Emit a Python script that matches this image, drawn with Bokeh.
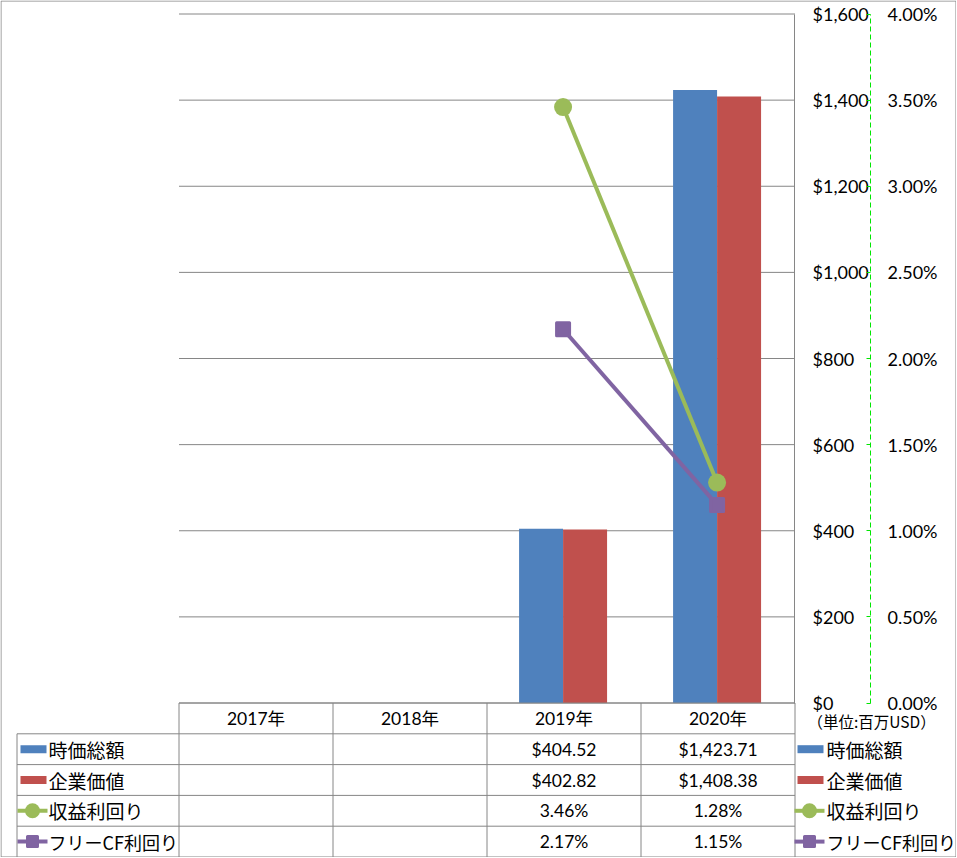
from bokeh.plotting import figure
from bokeh.models import (Range1d, LinearAxis, FixedTicker, NumeralTickFormatter,
                          PrintfTickFormatter, ColumnDataSource)
from bokeh.core.properties import value
from bokeh.embed import file_html
from bokeh.resources import INLINE

# ---------------- data ----------------
years = ["2017年", "2018年", "2019年", "2020年"]
series_names = ["時価総額", "企業価値", "収益利回り", "フリーCF利回り"]
market_cap = [None, None, 404.52, 1423.71]
enterprise_value = [None, None, 402.82, 1408.38]
earnings_yield = [None, None, 3.46, 1.28]
fcf_yield = [None, None, 2.17, 1.15]
usd_ticks = [0, 200, 400, 600, 800, 1000, 1200, 1400, 1600]
pct_ticks = [0.0, 0.5, 1.0, 1.5, 2.0, 2.5, 3.0, 3.5, 4.0]
unit_text = "（単位:百万USD）"

# ---------------- style / layout ----------------
BLUE, RED, GREEN, PURPLE = "#4F81BD", "#C0504D", "#9BBB59", "#8064A2"
GRID = "#868686"
AXGREEN = "#00E600"
NUM_FONT = "Lato, Noto Sans CJK JP"
CJK_FONT = "Noto Sans CJK JP"
LEGEND_SIZES = ["19px", "19px", "19px", "18px"]

W, H = 956, 857
PX_L, PX_R = 178.5, 794.5          # plot area edges (px)
NCAT = len(years)
COL_W = (PX_R - PX_L) / NCAT
PLOT_TOP, PLOT_BOT = 13.5, 702.5
ROW_TOP, ROW_H = 702.5, 30.8
USD_MAX, PCT_MAX = usd_ticks[-1], pct_ticks[-1]


def ux(px):
    return (px - PX_L) / COL_W


def ry(py):
    return (py - ROW_TOP) / ROW_H


usd_pp = USD_MAX / (PLOT_BOT - PLOT_TOP)
pct_pp = PCT_MAX / (PLOT_BOT - PLOT_TOP)

p = figure(width=W, height=H,
           x_range=Range1d(ux(0), ux(W)),
           y_range=Range1d((PLOT_BOT - H) * usd_pp, PLOT_BOT * usd_pp),
           x_axis_location=None, y_axis_location=None,
           output_backend="svg", toolbar_location=None,
           min_border=0, min_border_left=0, min_border_right=0,
           min_border_top=0, min_border_bottom=0,
           outline_line_color=None, background_fill_color="white",
           border_fill_color="white")
p.extra_y_ranges = {
    "pct": Range1d((PLOT_BOT - H) * pct_pp, PLOT_BOT * pct_pp),
    "row": Range1d(ry(H), ry(0)),
}
p.xgrid.visible = False
p.ygrid.visible = False

# ---- axes ($ and %) ----
ax = LinearAxis(fixed_location=ux(794), ticker=FixedTicker(ticks=usd_ticks),
                formatter=NumeralTickFormatter(format="$0,0"), bounds=(0, USD_MAX))
ax.axis_line_color = GRID
ax.major_tick_out = 0
ax.major_tick_in = 0
ax.minor_tick_out = 0
ax.minor_tick_in = 0
ax.major_label_standoff = 18
ax.major_label_text_font = NUM_FONT
ax.major_label_text_font_size = "18px"
ax.major_label_text_color = "black"
p.add_layout(ax, "right")

pax = LinearAxis(fixed_location=ux(870), y_range_name="pct",
                 ticker=FixedTicker(ticks=pct_ticks),
                 formatter=PrintfTickFormatter(format="%.2f%%"), bounds=(0, PCT_MAX))
pax.axis_line_color = AXGREEN
pax.axis_line_width = 1
pax.axis_line_dash = "5 3"
pax.major_tick_line_color = AXGREEN
pax.major_tick_in = 4
pax.major_tick_out = 0
pax.minor_tick_in = 0
pax.minor_tick_out = 0
pax.major_label_standoff = 17
pax.major_label_text_font = NUM_FONT
pax.major_label_text_font_size = "18px"
pax.major_label_text_color = "black"
p.add_layout(pax, "right")

# ---- horizontal gridlines over the plot area ----
p.segment(x0=[0] * len(usd_ticks), x1=[NCAT] * len(usd_ticks), y0=usd_ticks, y1=usd_ticks,
          line_color=GRID, line_width=1)

# ---- bars and lines ----
idx = [i for i, v in enumerate(market_cap) if v is not None]
CSHIFT = -0.006
BW = 44 / COL_W
src = ColumnDataSource(dict(
    xc=[i + 0.5 + CSHIFT for i in idx],
    xb=[i + 0.5 + CSHIFT - BW / 2 for i in idx],
    xr=[i + 0.5 + CSHIFT + BW / 2 for i in idx],
    mcap=[market_cap[i] for i in idx],
    ev=[enterprise_value[i] for i in idx],
    ey=[earnings_yield[i] for i in idx],
    fcf=[fcf_yield[i] for i in idx],
))
p.vbar(x="xb", top="mcap", bottom=0, width=BW, source=src, fill_color=BLUE, line_color=None)
p.vbar(x="xr", top="ev", bottom=0, width=BW, source=src, fill_color=RED, line_color=None)

p.line(x="xc", y="ey", source=src, y_range_name="pct", line_color=GREEN, line_width=4)
p.scatter(x="xc", y="ey", source=src, y_range_name="pct", marker="circle", size=18,
          fill_color=GREEN, line_color=None)
p.line(x="xc", y="fcf", source=src, y_range_name="pct", line_color=PURPLE, line_width=4)
p.scatter(x="xc", y="fcf", source=src, y_range_name="pct", marker="square", size=13,
          fill_color=PURPLE, line_color=PURPLE, line_width=3, line_join="round")

# ---------------- data table ----------------
NROW = len(series_names)
xL = ux(16.5)
hx0 = [0] + [xL] * NROW + [ux(0.5)]
hx1 = [NCAT] * (NROW + 1) + [ux(W - 0.5)]
hy = list(range(NROW + 2))
p.segment(x0=hx0, y0=hy, x1=hx1, y1=hy, y_range_name="row", line_color=GRID, line_width=1)
vx = list(range(NCAT + 1)) + [xL]
vy0 = [0] * (NCAT + 1) + [1]
vy1 = [NROW + 1] * (NCAT + 2)
p.segment(x0=vx, y0=vy0, x1=vx, y1=vy1, y_range_name="row", line_color=GRID, line_width=1)
# outer border (left, right, top)
bx = [ux(0.5), ux(W - 0.5), ux(0.5)]
bx1 = [ux(0.5), ux(W - 0.5), ux(W - 0.5)]
by0 = [ry(0.5), ry(0.5), ry(0.5)]
by1 = [ry(H - 0.5), ry(H - 0.5), ry(0.5)]
p.segment(x0=bx, y0=by0, x1=bx1, y1=by1, y_range_name="row", line_color=GRID, line_width=1)

# header row (years)
p.text(x=[i + 0.5 for i in range(NCAT)], y=[0.5] * NCAT, text=years, y_range_name="row",
       text_align="center", text_baseline="middle", text_font=value(NUM_FONT),
       text_font_size="17.5px", text_color="black")

# values
tx, ty, tt = [], [], []
for r, vals in enumerate([market_cap, enterprise_value, earnings_yield, fcf_yield]):
    for i, v in enumerate(vals):
        if v is None:
            continue
        tx.append(i + 0.5)
        ty.append(r + 1.5)
        tt.append("${:,.2f}".format(v) if r < 2 else "{:.2f}%".format(v))
p.text(x=tx, y=ty, text=tt, y_range_name="row", text_align="center", text_baseline="middle",
       text_font=value(NUM_FONT), text_font_size="17.5px", text_color="black")

# unit note
p.text(x=[ux(807)], y=[ry(720)], text=[unit_text], y_range_name="row",
       text_align="left", text_baseline="middle", text_font=value(CJK_FONT),
       text_font_size="15.5px", text_color="black")

# legend keys, left and right of the table
half = 4 / ROW_H
for sw_x0, txt_x in [(20, 48), (797, 826)]:
    p.quad(left=[ux(sw_x0)] * 2, right=[ux(sw_x0 + 26)] * 2,
           top=[1.5 - half, 2.5 - half], bottom=[1.5 + half, 2.5 + half],
           y_range_name="row", fill_color=[BLUE, RED], line_color=None)
    lx0, lx1 = ux(sw_x0 - 3), ux(sw_x0 + 27)
    cx = (lx0 + lx1) / 2
    p.segment(x0=[lx0], y0=[3.5], x1=[lx1], y1=[3.5], y_range_name="row",
              line_color=GREEN, line_width=4)
    p.scatter(x=[cx], y=[3.5], y_range_name="row", marker="circle", size=15,
              fill_color=GREEN, line_color=None)
    p.segment(x0=[lx0], y0=[4.5], x1=[lx1], y1=[4.5], y_range_name="row",
              line_color=PURPLE, line_width=4)
    p.scatter(x=[cx], y=[4.5], y_range_name="row", marker="square", size=10,
              fill_color=PURPLE, line_color=PURPLE, line_width=3, line_join="round")
    for r in range(NROW):
        p.text(x=[ux(txt_x)], y=[r + 1.5], text=[series_names[r]],
               y_range_name="row", text_align="left", text_baseline="middle",
               text_font=value(CJK_FONT), text_font_size=LEGEND_SIZES[r],
               text_color="black")

open("out.html", "w").write(file_html(p, INLINE))
